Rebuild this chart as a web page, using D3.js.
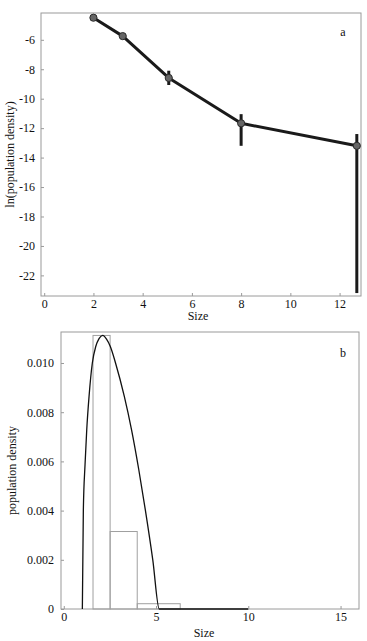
<!DOCTYPE html>
<html><head><meta charset="utf-8">
<script src="https://cdn.jsdelivr.net/npm/d3@7"></script>
<style>
html,body{margin:0;padding:0;background:#fff;}
svg{display:block;}
svg text{font-family:"Liberation Serif","Times New Roman",serif !important;}
</style></head>
<body>
<svg id="chart" width="367" height="641"></svg>
<script>
// Panel a data
const sizesA = [2.0, 3.19, 5.06, 8.0, 12.7];
const lnDensity = [-4.5, -5.75, -8.59, -11.67, -13.2];
const errLow = [-4.5, -5.75, -9.07, -13.2, -23.2];
const errHigh = [-4.5, -5.75, -8.1, -11.05, -12.4];
const xTicksA = [0, 2, 4, 6, 8, 10, 12];
const yTicksA = [-6, -8, -10, -12, -14, -16, -18, -20, -22];

// Panel b data
const binStart = [1.585, 2.512, 3.981];
const binEnd = [2.512, 3.981, 6.310];
const binDensity = [0.01112, 0.00315, 0.000215];
const curveSize = [1.007, 1.061, 1.153, 1.245, 1.37, 1.548, 1.733, 1.911, 2.111, 2.317, 2.523, 2.805, 3.281, 3.671, 4.066, 4.418, 4.824, 5.176, 10.0];
const curveDensity = [0, 0.00402, 0.00587, 0.00729, 0.00864, 0.0100, 0.01067, 0.01099, 0.01112, 0.01097, 0.01067, 0.0100, 0.00864, 0.00729, 0.00566, 0.00404, 0.0020, 0, 0];
const xTicksB = [0, 5, 10, 15];
const yTicksB = [0, 0.002, 0.004, 0.006, 0.008, 0.010];
const yTickLabelsB = ["0", "0.002", "0.004", "0.006", "0.008", "0.010"];

const svg = d3.select("#chart");
const frameColor = "#9a9a9a";
const fs = 12;
const serif = '"Liberation Serif","Times New Roman",serif';

function styleAxis(ax) {
  ax.attr("font-family", null).attr("font-size", null);
  ax.select(".domain").remove();
  ax.selectAll(".tick line").attr("stroke", frameColor);
  ax.selectAll(".tick text").style("font-size", fs + "px").style("font-family", serif).attr("fill", "#111");
}

// ---------- Panel a ----------
const a = {l: 41, r: 361, t: 13, b: 296};
const xA = d3.scaleLinear().domain([-0.13, 12.87]).range([a.l, a.r]);
const yA = d3.scaleLinear().domain([-23.4, -4.18]).range([a.b, a.t]);

const gA = svg.append("g");
gA.append("rect").attr("x", a.l).attr("y", a.t).attr("width", a.r - a.l).attr("height", a.b - a.t)
  .attr("fill", "none").attr("stroke", frameColor).attr("stroke-width", 1);

styleAxis(gA.append("g").attr("transform", `translate(0,${a.b})`)
  .call(d3.axisBottom(xA).tickValues(xTicksA).tickSizeInner(-3).tickSizeOuter(0).tickPadding(3).tickFormat(d3.format("d"))));
styleAxis(gA.append("g").attr("transform", `translate(${a.l},0)`)
  .call(d3.axisLeft(yA).tickValues(yTicksA).tickSizeInner(-3).tickSizeOuter(0).tickPadding(6).tickFormat(d => String(d))));

gA.append("text").attr("x", (a.l + a.r) / 2 - 3).attr("y", 320).attr("text-anchor", "middle")
  .style("font-size", fs + "px").attr("fill", "#111").text("Size");
gA.append("text").attr("transform", `translate(14,${(a.t + a.b) / 2}) rotate(-90)`).attr("text-anchor", "middle")
  .style("font-size", fs + "px").attr("fill", "#111").text("ln(population density)");
gA.append("text").attr("x", 343).attr("y", 36).attr("text-anchor", "middle")
  .style("font-size", fs + "px").attr("fill", "#111").text("a");

const ptsA = sizesA.map((s, i) => ({x: s, y: lnDensity[i], lo: errLow[i], hi: errHigh[i]}));
gA.append("path").datum(ptsA)
  .attr("d", d3.line().x(d => xA(d.x)).y(d => yA(d.y)))
  .attr("fill", "none").attr("stroke", "#1a1a1a").attr("stroke-width", 3).attr("stroke-linejoin", "round");
gA.selectAll(".err").data(ptsA.filter(d => d.lo !== d.hi)).enter().append("line")
  .attr("x1", d => xA(d.x)).attr("x2", d => xA(d.x))
  .attr("y1", d => yA(d.lo)).attr("y2", d => yA(d.hi))
  .attr("stroke", "#1a1a1a").attr("stroke-width", 3);
gA.selectAll(".pt").data(ptsA).enter().append("circle")
  .attr("cx", d => xA(d.x)).attr("cy", d => yA(d.y)).attr("r", 3.6)
  .attr("fill", "#666").attr("stroke", "#2a2a2a").attr("stroke-width", 1);

// ---------- Panel b ----------
const b = {l: 61, r: 359, t: 332, b: 609};
const xB = d3.scaleLinear().domain([-0.15, 16.0]).range([b.l, b.r]);
const yB = d3.scaleLinear().domain([0, 0.01126]).range([b.b, b.t]);

const gB = svg.append("g");
gB.append("rect").attr("x", b.l).attr("y", b.t).attr("width", b.r - b.l).attr("height", b.b - b.t)
  .attr("fill", "none").attr("stroke", frameColor).attr("stroke-width", 1);

const bins = binStart.map((s, i) => ({x0: s, x1: binEnd[i], y: binDensity[i]}));
gB.selectAll(".bar").data(bins).enter().append("rect")
  .attr("x", d => xB(d.x0)).attr("width", d => xB(d.x1) - xB(d.x0))
  .attr("y", d => yB(d.y)).attr("height", d => yB(0) - yB(d.y))
  .attr("fill", "none").attr("stroke", "#a0a0a0").attr("stroke-width", 1);

const curve = curveSize.map((s, i) => ({x: s, y: curveDensity[i]}));
gB.append("path").datum(curve)
  .attr("d", d3.line().x(d => xB(d.x)).y(d => yB(d.y)).curve(d3.curveMonotoneX))
  .attr("fill", "none").attr("stroke", "#111").attr("stroke-width", 1.3);

styleAxis(gB.append("g").attr("transform", `translate(0,${b.b})`)
  .call(d3.axisBottom(xB).tickValues(xTicksB).tickSizeInner(-3).tickSizeOuter(0).tickPadding(3).tickFormat(d3.format("d"))));
styleAxis(gB.append("g").attr("transform", `translate(${b.l},0)`)
  .call(d3.axisLeft(yB).tickValues(yTicksB).tickSizeInner(-3).tickSizeOuter(0).tickPadding(7).tickFormat((d, i) => yTickLabelsB[i])));

gB.append("text").attr("x", 204).attr("y", 637).attr("text-anchor", "middle")
  .style("font-size", fs + "px").attr("fill", "#111").text("Size");
gB.append("text").attr("transform", `translate(16,${(b.t + b.b) / 2}) rotate(-90)`).attr("text-anchor", "middle")
  .style("font-size", fs + "px").attr("fill", "#111").text("population density");
gB.append("text").attr("x", 343).attr("y", 357).attr("text-anchor", "middle")
  .style("font-size", fs + "px").attr("fill", "#111").text("b");
</script>
</body></html>
